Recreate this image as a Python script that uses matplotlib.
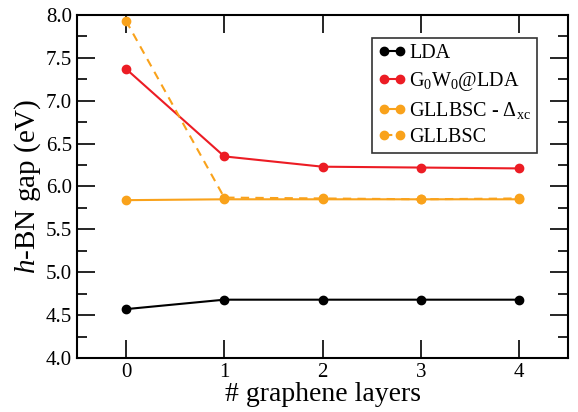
import matplotlib
matplotlib.use("Agg")
import matplotlib.pyplot as plt
from matplotlib.ticker import MultipleLocator

plt.rcParams['font.family'] = ['Liberation Serif', 'DejaVu Serif']
plt.rcParams['mathtext.fontset'] = 'custom'
plt.rcParams['mathtext.rm'] = 'Liberation Serif'
plt.rcParams['mathtext.it'] = 'Liberation Serif:italic'

# data
layers = [0, 1, 2, 3, 4]
lda = [4.57, 4.68, 4.68, 4.68, 4.68]
g0w0 = [7.37, 6.35, 6.23, 6.22, 6.21]
gllbsc_dxc = [5.84, 5.85, 5.85, 5.85, 5.85]
gllbsc = [7.93, 5.87, 5.86, 5.85, 5.86]

fig = plt.figure(figsize=(5.78, 4.12), dpi=100)
ax = fig.add_axes([0.133, 0.131, 0.85, 0.833])

ax.plot(layers, lda, '-o', color='black', lw=1.5, ms=6, label='LDA')
ax.plot(layers, g0w0, '-o', color='#ec1c24', lw=1.5, ms=6, label=r'G$_0$W$_0$@LDA')
ax.plot(layers, gllbsc_dxc, '-o', color='#f9a21b', lw=1.5, ms=6,
        label=r'GLLBSC - $\Delta_{\rm xc}$')
ax.plot(layers, gllbsc, '--o', color='#f9a21b', lw=1.5, ms=6,
        dashes=(4, 3), label='GLLBSC')

ax.set_xlim(-0.5, 4.5)
ax.set_ylim(4.0, 8.0)
ax.xaxis.set_major_locator(MultipleLocator(1))
ax.yaxis.set_major_locator(MultipleLocator(0.5))
ax.yaxis.set_minor_locator(MultipleLocator(0.25))
ax.yaxis.set_major_formatter(plt.FormatStrFormatter('%.1f'))
ax.tick_params(which='both', direction='in', top=True, right=True, labelsize=15)
ax.tick_params(which='major', length=13, width=1.2)
ax.tick_params(which='minor', length=7, width=1.2)
for s in ax.spines.values():
    s.set_linewidth(1.5)

ax.set_xlabel('# graphene layers', fontsize=20, labelpad=0)
ax.set_ylabel(r'$h$-BN gap (eV)', fontsize=21, labelpad=2)

leg = ax.legend(loc='upper left', fontsize=14.5, frameon=True, fancybox=False,
                edgecolor='black', handlelength=1.4, numpoints=2, borderpad=0.3,
                labelspacing=0.35, handletextpad=0.15, borderaxespad=0,
                bbox_to_anchor=(0.601, 0.933))
leg.get_frame().set_linewidth(1.2)

fig.savefig('out.png', dpi=100)
